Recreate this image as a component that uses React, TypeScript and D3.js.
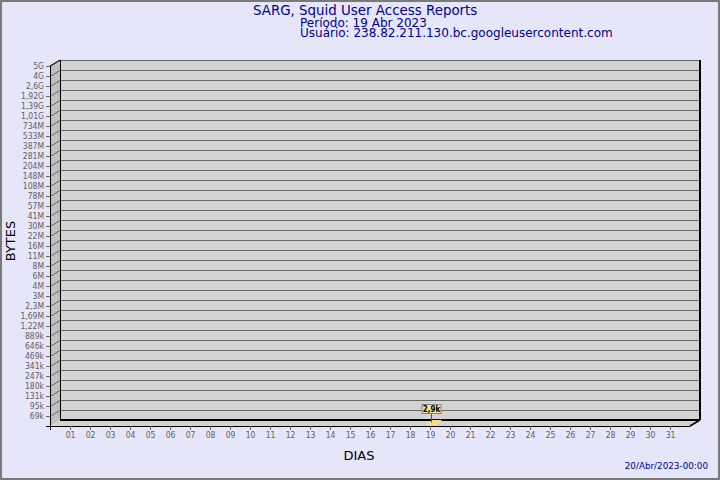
import { useEffect, useRef } from 'react'
import * as d3 from 'd3'

// Report header
const titleLines = [
  'SARG, Squid User Access Reports',
  'Período: 19 Abr 2023',
  'Usuário: 238.82.211.130.bc.googleusercontent.com',
]
const footerDate = '20/Abr/2023-00:00'

// Day labels on the x axis
const days = [
  '01', '02', '03', '04', '05', '06', '07', '08', '09', '10',
  '11', '12', '13', '14', '15', '16', '17', '18', '19', '20',
  '21', '22', '23', '24', '25', '26', '27', '28', '29', '30', '31',
]

// Y axis levels (bottom to top) and their labels
const yTickValues = [
  69e3, 95e3, 131e3, 180e3, 247e3, 341e3, 469e3, 646e3, 889e3,
  1.22e6, 1.69e6, 2.3e6, 3e6, 4e6, 6e6, 8e6, 11e6, 16e6, 22e6, 30e6,
  41e6, 57e6, 78e6, 108e6, 148e6, 204e6, 281e6, 387e6, 533e6, 734e6,
  1.01e9, 1.39e9, 1.92e9, 2.6e9, 4e9, 5e9,
]
const yTickLabels = [
  '69k', '95k', '131k', '180k', '247k', '341k', '469k', '646k', '889k',
  '1,22M', '1,69M', '2,3M', '3M', '4M', '6M', '8M', '11M', '16M', '22M', '30M',
  '41M', '57M', '78M', '108M', '148M', '204M', '281M', '387M', '533M', '734M',
  '1,01G', '1,39G', '1,92G', '2,6G', '4G', '5G',
]

// Traffic per day (only day 19 has data)
const barDays = [19]
const barBytes = [2900]
const barLabels = ['2,9k']

const tickFont = "'DejaVu Sans Condensed', 'DejaVu Sans', sans-serif"

export default function App() {
  const svgRef = useRef<SVGSVGElement>(null)

  useEffect(() => {
    if (!svgRef.current) return
    const svg = d3.select(svgRef.current)
    svg.selectAll('*').remove()

    const W = 720
    const H = 480
    const depthX = 10
    const depthY = -6

    // background + frame
    svg.append('rect').attr('x', 0).attr('y', 0).attr('width', W).attr('height', H).attr('fill', '#e6e6fa')
    svg.append('rect').attr('x', 1).attr('y', 1).attr('width', W - 2).attr('height', H - 2)
      .attr('fill', 'none').attr('stroke', '#7a7a7a').attr('stroke-width', 2)

    // scales
    const xScale = d3.scaleLinear().domain([0, days.length + 1]).range([50, 690])
    const level = d3.scaleLinear().domain([0, yTickValues.length]).range([426, 66])
    const yScale = d3.scaleLinear()
      .domain([0, ...yTickValues])
      .range([0, ...yTickValues].map((_, i) => level(i)))

    const x0 = xScale(0)
    const x1 = xScale(days.length + 1)
    const y0 = yScale(0)
    const yTop = yScale(yTickValues[yTickValues.length - 1])

    // back wall
    svg.append('rect')
      .attr('x', x0 + depthX).attr('y', yTop + depthY)
      .attr('width', x1 - x0).attr('height', y0 - yTop)
      .attr('fill', '#d3d3d3')

    // side wall
    svg.append('polygon')
      .attr('points', [[x0, yTop], [x0 + depthX, yTop + depthY], [x0 + depthX, y0 + depthY], [x0, y0]].join(' '))
      .attr('fill', '#c0c0c0')

    // floor
    svg.append('polygon')
      .attr('points', [[x0, y0], [x0 + depthX, y0 + depthY], [x1 + depthX, y0 + depthY], [x1, y0]].join(' '))
      .attr('fill', '#d3d3d3')

    // grid lines at each level
    const grid = svg.append('g').attr('stroke', '#686868').attr('stroke-width', 1).attr('fill', 'none')
    yTickValues.forEach(v => {
      const y = Math.round(yScale(v)) + 0.5
      grid.append('polyline')
        .attr('points', [[x0 - 4, y], [x0, y], [x0 + depthX, y + depthY], [x1 + depthX, y + depthY]].join(' '))
    })

    // edges
    const edges = svg.append('g').attr('stroke', '#000').attr('fill', 'none')
    edges.append('line').attr('x1', x0 + depthX + 0.5).attr('x2', x0 + depthX + 0.5)
      .attr('y1', yTop + depthY).attr('y2', y0 + depthY).attr('stroke-width', 1)
    edges.append('line').attr('x1', x1 + depthX).attr('x2', x1 + depthX)
      .attr('y1', yTop + depthY).attr('y2', y0 + depthY).attr('stroke-width', 2)
    edges.append('line').attr('x1', x0 + depthX).attr('x2', x1 + depthX)
      .attr('y1', y0 + depthY).attr('y2', y0 + depthY).attr('stroke-width', 2)
    edges.append('line').attr('x1', x1 + depthX).attr('x2', x1)
      .attr('y1', y0 + depthY).attr('y2', y0).attr('stroke-width', 1.5)
    edges.append('line').attr('x1', x0 + 0.5).attr('x2', x0 + 0.5)
      .attr('y1', yTop + depthY + 6).attr('y2', y0 + 4).attr('stroke-width', 1)
    edges.append('line').attr('x1', x0 + depthX).attr('x2', x0)
      .attr('y1', yTop + depthY).attr('y2', yTop).attr('stroke-width', 1)
    edges.append('line').attr('x1', x0 - 4).attr('x2', x1)
      .attr('y1', y0 + 0.5).attr('y2', y0 + 0.5).attr('stroke-width', 1)

    // y labels
    svg.append('g')
      .selectAll('text')
      .data(yTickValues)
      .enter().append('text')
      .attr('x', x0 - 6)
      .attr('y', d => yScale(d))
      .attr('dy', '0.36em')
      .attr('text-anchor', 'end')
      .style('font-family', tickFont)
      .style('font-size', '8.5px')
      .style('fill', '#606060')
      .text((d, i) => yTickLabels[i])

    // x ticks and labels
    const xg = svg.append('g')
    days.forEach((d, i) => {
      const x = Math.round(xScale(i + 1)) + 0.5
      xg.append('line').attr('x1', x).attr('x2', x).attr('y1', y0).attr('y2', y0 + 4)
        .attr('stroke', '#666')
      xg.append('text')
        .attr('x', x)
        .attr('y', y0 + 11.5)
        .attr('text-anchor', 'middle')
        .style('font-family', tickFont)
        .style('font-size', '8.5px')
        .style('fill', '#606060')
        .text(d)
    })

    // bars
    barDays.forEach((day, i) => {
      const cx = xScale(day)
      const top = Math.min(yScale(barBytes[i]), y0 - 1)
      const bl = cx - 4
      const bw = 10
      const bdx = 6
      const bdy = -5
      svg.append('rect')
        .attr('x', bl).attr('y', top).attr('width', bw).attr('height', y0 - top)
        .attr('fill', '#efd46a')
      svg.append('polygon')
        .attr('points', [[bl, top], [bl + bw, top], [bl + bw + bdx, top + bdy], [bl + bdx, top + bdy]].join(' '))
        .attr('fill', '#f7df82')

      // value label
      const lx = cx + 1.5
      svg.append('line')
        .attr('x1', lx).attr('x2', lx).attr('y1', 413).attr('y2', top + bdy / 2)
        .attr('stroke', '#555')
      svg.append('rect')
        .attr('x', lx - 9.5).attr('y', 404.5).attr('width', 19).attr('height', 9)
        .attr('fill', '#f3e79b').attr('stroke', '#808080')
      svg.append('text')
        .attr('x', lx).attr('y', 412)
        .attr('text-anchor', 'middle')
        .style('font-family', tickFont)
        .style('font-size', '8px')
        .style('font-weight', 'bold')
        .style('fill', '#000')
        .text(barLabels[i])
    })

    // axis titles
    svg.append('text')
      .attr('transform', 'translate(15,241) rotate(-90)')
      .attr('text-anchor', 'middle')
      .style('font-family', 'DejaVu Sans')
      .style('font-size', '13px')
      .style('fill', '#000')
      .text('BYTES')

    svg.append('text')
      .attr('x', 359).attr('y', 460)
      .attr('text-anchor', 'middle')
      .style('font-family', 'DejaVu Sans')
      .style('font-size', '13px')
      .style('fill', '#000')
      .text('DIAS')

    // header
    const titleX = [253, 300, 300]
    const titleY = [14.5, 26.5, 37]
    const titleSize = [13.4, 12, 12]
    titleLines.forEach((t, i) => {
      svg.append('text')
        .attr('x', titleX[i]).attr('y', titleY[i])
        .style('font-family', 'DejaVu Sans')
        .style('font-size', `${titleSize[i]}px`)
        .style('fill', '#00008b')
        .text(t)
    })

    svg.append('text')
      .attr('x', 708).attr('y', 469)
      .attr('text-anchor', 'end')
      .style('font-family', 'DejaVu Sans')
      .style('font-size', '8.8px')
      .style('fill', '#00008b')
      .text(footerDate)
  }, [])

  return (
    <div style={{ position: 'fixed', left: 0, top: 0 }}>
      <svg ref={svgRef} width={720} height={480} style={{ display: 'block' }} />
    </div>
  )
}
